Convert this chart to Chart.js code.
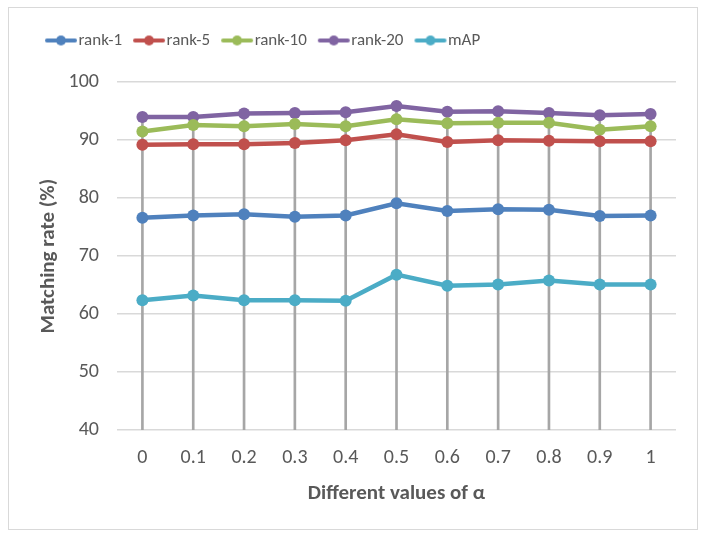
<!DOCTYPE html>
<html>
<head>
<meta charset="utf-8">
<script src="https://cdn.jsdelivr.net/npm/chart.js@4/dist/chart.umd.min.js"></script>
<style>
    html, body { margin: 0; padding: 0; background: #fff; }
    #wrap { position: relative; width: 706px; height: 539px; }
    #frame {
        position: absolute; left: 8px; top: 7px; width: 688px; height: 521px;
        border: 1.5px solid #d9d9d9; pointer-events: none;
    }
</style>
</head>
<body>
<div id="wrap">
    <canvas id="chart" width="706" height="539"></canvas>
    <div id="frame"></div>
</div>
<script>
// values
const alphas = ['0', '0.1', '0.2', '0.3', '0.4', '0.5', '0.6', '0.7', '0.8', '0.9', '1'];
const rank1 = [76.6, 77.0, 77.2, 76.8, 77.0, 79.1, 77.8, 78.1, 78.0, 76.9, 77.0];
const rank5 = [89.2, 89.3, 89.3, 89.5, 90.0, 91.0, 89.7, 90.0, 89.9, 89.8, 89.8];
const rank10 = [91.5, 92.6, 92.4, 92.8, 92.4, 93.6, 92.9, 93.0, 93.0, 91.8, 92.4];
const rank20 = [94.0, 94.0, 94.6, 94.7, 94.8, 95.9, 94.9, 95.0, 94.7, 94.3, 94.5];
const mAP = [62.4, 63.2, 62.4, 62.4, 62.3, 66.8, 64.9, 65.1, 65.8, 65.1, 65.1];
const yTicks = [40, 50, 60, 70, 80, 90, 100];

const FONT = "Carlito, 'Liberation Sans', Arial, sans-serif";
const TEXT = '#595959';

// legend marker: short line with a dot in the middle,
// drawn towards the right so it sits close to the label text
function legendMarker(color) {
    const c = document.createElement('canvas');
    c.width = 40;
    c.height = 12;
    const g = c.getContext('2d');
    g.strokeStyle = color;
    g.lineWidth = 4;
    g.lineCap = 'round';
    g.beginPath();
    g.moveTo(8, 6);
    g.lineTo(36, 6);
    g.stroke();
    g.fillStyle = color;
    g.beginPath();
    g.arc(22, 6, 5, 0, Math.PI * 2);
    g.fill();
    return c;
}

function series(label, data, color) {
    return {
        type: 'line',
        label: label,
        data: data,
        borderColor: color,
        backgroundColor: color,
        borderWidth: 4.5,
        pointRadius: 6,
        pointHoverRadius: 6,
        pointBorderWidth: 0,
        tension: 0,
        order: 1
    };
}

const datasets = [
    series('rank-1', rank1, '#4f81bd'),
    series('rank-5', rank5, '#c0504d'),
    series('rank-10', rank10, '#9bbb59'),
    series('rank-20', rank20, '#8064a2'),
    series('mAP', mAP, '#4bacc6'),
    {
        // drop lines from the highest point down to the axis
        type: 'bar',
        label: 'drop',
        data: rank20.map(v => [yTicks[0], v]),
        backgroundColor: '#a6a6a6',
        barThickness: 2,
        order: 9
    }
];

new Chart(document.getElementById('chart'), {
    type: 'line',
    data: { labels: alphas, datasets: datasets },
    options: {
        responsive: false,
        animation: false,
        layout: { padding: { top: 18, right: 30, bottom: 27, left: 34 } },
        plugins: {
            tooltip: { enabled: false },
            // empty subtitle used as a gap between legend and plot
            subtitle: {
                display: true,
                text: '',
                weight: 500,
                font: { size: 1 },
                padding: { top: 11, bottom: 11 }
            },
            legend: {
                position: 'top',
                align: 'start',
                labels: {
                    usePointStyle: true,
                    pointStyleWidth: 22,
                    boxHeight: 12,
                    padding: 14,
                    color: TEXT,
                    font: { family: FONT, size: 17 },
                    filter: item => item.text !== 'drop',
                    generateLabels: chart => chart.data.datasets.map((ds, i) => ({
                        text: ds.label,
                        datasetIndex: i,
                        pointStyle: legendMarker(ds.borderColor),
                        fontColor: TEXT,
                        lineWidth: 0,
                        hidden: false
                    }))
                }
            }
        },
        scales: {
            x: {
                offset: true,
                grid: { display: false, drawTicks: false },
                border: { display: false },
                ticks: { color: TEXT, padding: 16, font: { family: FONT, size: 20 } },
                title: {
                    display: true,
                    text: 'Different values of α',
                    color: TEXT,
                    padding: { top: 4, bottom: 6 },
                    font: { family: FONT, size: 21, weight: 'bold' }
                },
                afterFit: scale => { scale.height = 82; }
            },
            y: {
                min: yTicks[0],
                max: yTicks[yTicks.length - 1],
                afterBuildTicks: scale => { scale.ticks = yTicks.map(v => ({ value: v })); },
                grid: { color: '#d9d9d9', lineWidth: 1.5, drawTicks: false },
                border: { display: false },
                ticks: { color: TEXT, padding: 18, font: { family: FONT, size: 20 } },
                title: {
                    display: true,
                    text: 'Matching rate (%)',
                    color: TEXT,
                    padding: { top: 2, bottom: 0 },
                    font: { family: FONT, size: 21, weight: 'bold' }
                },
                afterFit: scale => { scale.width = 83; }
            }
        }
    }
});
</script>
</body>
</html>
